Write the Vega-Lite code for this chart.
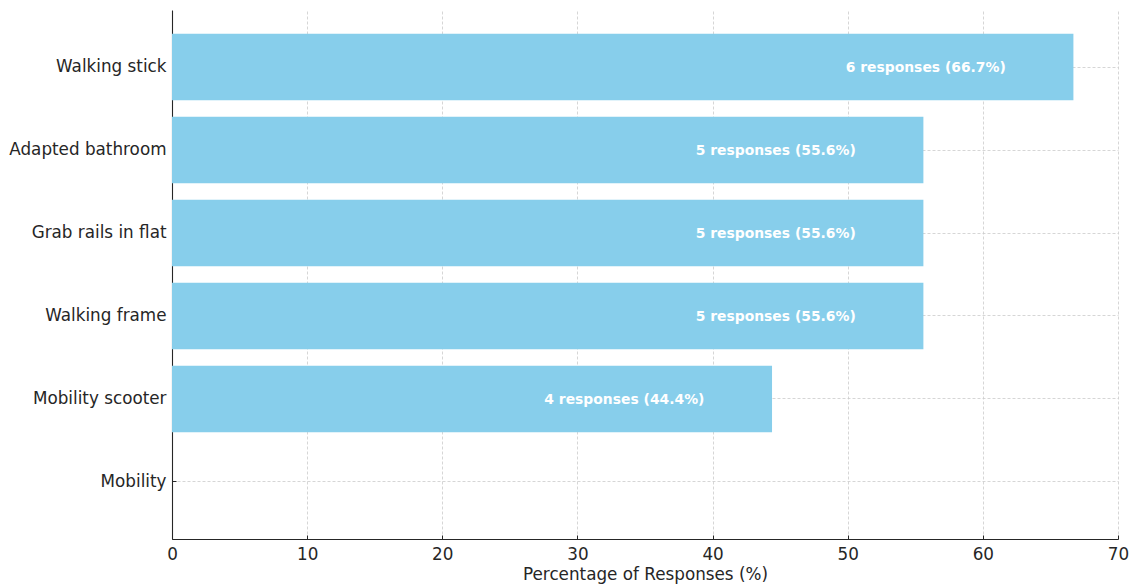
{
  "$schema": "https://vega.github.io/schema/vega-lite/v6.json",
  "width": 946,
  "height": 529,
  "autosize": {"type": "none"},
  "padding": {"left": 172, "top": 10, "right": 18, "bottom": 49},
  "background": "white",
  "config": {
    "view": {"stroke": null},
    "font": "DejaVu Sans",
    "axis": {
      "labelFont": "DejaVu Sans",
      "titleFont": "DejaVu Sans",
      "labelColor": "#262626",
      "titleColor": "#262626",
      "domainColor": "#262626",
      "tickColor": "#262626",
      "domainWidth": 1.1,
      "tickWidth": 1,
      "gridColor": "#cccccc",
      "gridDash": [3, 2],
      "gridWidth": 0.8
    }
  },
  "data": {
    "values": [
      {"item": "Walking stick", "value": 66.7, "label": "6 responses (66.7%)"},
      {"item": "Adapted bathroom", "value": 55.6, "label": "5 responses (55.6%)"},
      {"item": "Grab rails in flat", "value": 55.6, "label": "5 responses (55.6%)"},
      {"item": "Walking frame", "value": 55.6, "label": "5 responses (55.6%)"},
      {"item": "Mobility scooter", "value": 44.4, "label": "4 responses (44.4%)"},
      {"item": "Mobility", "value": 0, "label": ""}
    ]
  },
  "encoding": {
    "y": {
      "field": "item",
      "type": "nominal",
      "sort": ["Walking stick", "Adapted bathroom", "Grab rails in flat", "Walking frame", "Mobility scooter", "Mobility"],
      "scale": {"paddingInner": 0.2, "paddingOuter": 0.287},
      "axis": {
        "title": null,
        "labelFontSize": 16.8,
        "tickSize": -4,
        "labelPadding": 10,
        "grid": true,
        "bandPosition": 0.5
      }
    },
    "x": {
      "field": "value",
      "type": "quantitative",
      "scale": {"domain": [0, 70], "nice": false, "zero": true},
      "axis": {
        "title": "Percentage of Responses (%)",
        "titleFontSize": 16.8,
        "titleFontWeight": "normal",
        "titlePadding": 4,
        "labelFontSize": 16.8,
        "labelFlush": false,
        "values": [0, 10, 20, 30, 40, 50, 60, 70],
        "tickSize": -4,
        "labelPadding": 11,
        "grid": true
      }
    }
  },
  "layer": [
    {"mark": {"type": "bar", "color": "#87CEEB"}},
    {
      "transform": [{"filter": "datum.value > 0"}],
      "mark": {
        "type": "text",
        "align": "right",
        "baseline": "middle",
        "dx": -67.6,
        "dy": 1,
        "color": "white",
        "fontWeight": "bold",
        "fontSize": 13.9,
        "font": "DejaVu Sans"
      },
      "encoding": {"text": {"field": "label"}}
    }
  ]
}
